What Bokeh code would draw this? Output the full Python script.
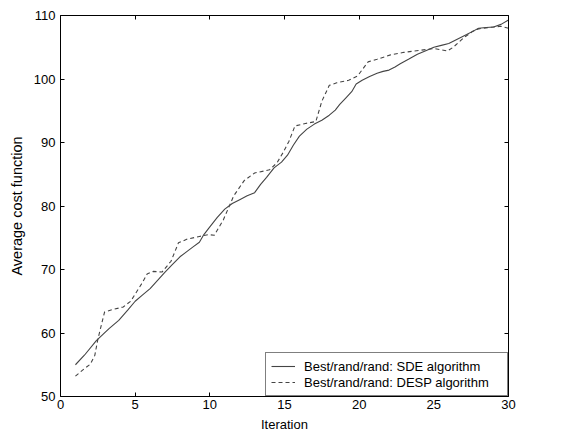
from bokeh.plotting import figure
from bokeh.models import Range1d, LinearAxis, FixedTicker, Legend, LegendItem
from bokeh.embed import file_html
from bokeh.resources import INLINE

# ---- data ----
sde_x = [1, 1.6, 2.4, 3.25, 3.9, 4.5, 5, 5.5, 6, 6.5, 7, 7.5, 8, 8.5, 8.9, 9.3, 9.6,
         10, 10.5, 11, 11.5, 12, 12.5, 13, 13.4, 13.8, 14.3, 14.8, 15.2, 15.6, 16,
         16.5, 17, 17.5, 18, 18.4, 18.7, 19.1, 19.5, 19.8, 20.2, 20.7, 21.2, 21.6,
         22, 22.4, 22.75, 23.3, 23.9, 24.5, 25, 25.5, 26, 26.6, 27.2, 27.6, 28,
         28.5, 29, 29.5, 30]
sde_y = [55.0, 56.5, 58.8, 60.7, 62.0, 63.6, 65.0, 66.0, 67.0, 68.3, 69.6, 70.8, 72.0,
         72.9, 73.6, 74.3, 75.5, 76.7, 78.2, 79.5, 80.4, 81.0, 81.6, 82.1, 83.4,
         84.5, 86.0, 86.9, 88.0, 89.6, 91.0, 92.1, 92.9, 93.5, 94.3, 95.1, 96.0,
         97.0, 98.0, 99.2, 99.8, 100.4, 100.9, 101.2, 101.4, 101.9, 102.4, 103.1,
         103.9, 104.5, 105.0, 105.3, 105.6, 106.3, 107.0, 107.5, 108.0, 108.1,
         108.2, 108.6, 109.3]

desp_x = [1, 1.5, 2.0, 2.3, 2.5, 2.95, 3.5, 4.2, 4.7, 5.1, 5.5, 5.8, 6.2, 6.8, 7.4,
          7.9, 8.5, 9.3, 9.9, 10.3, 10.9, 11.6, 12.3, 13.0, 14.0, 14.5, 14.9, 15.3,
          15.7, 16.4, 17.1, 17.5, 18.0, 18.5, 19.3, 19.9, 20.6, 21.2, 22.1, 23.0,
          24.0, 25.0, 25.5, 25.9, 26.3, 27.0, 27.6, 28.0, 29.0, 29.5, 30]
desp_y = [53.2, 54.2, 55.1, 56.5, 59.0, 63.3, 63.7, 64.1, 65.0, 66.5, 68.0, 69.3,
          69.7, 69.6, 71.3, 74.2, 74.8, 75.2, 75.5, 75.4, 77.8, 81.6, 84.0, 85.2,
          85.7, 86.8, 88.4, 90.2, 92.6, 93.0, 93.3, 96.5, 99.0, 99.4, 99.8, 100.5,
          102.7, 103.1, 103.8, 104.2, 104.5, 104.8, 104.6, 104.4, 105.0, 106.5,
          107.5, 107.9, 108.2, 108.3, 108.0]

x_ticks = [0, 5, 10, 15, 20, 25, 30]
y_ticks = [50, 60, 70, 80, 90, 100, 110]

FONT = "Liberation Sans"

p = figure(width=564, height=434, output_backend="svg", toolbar_location=None,
           x_range=Range1d(0, 30), y_range=Range1d(50, 110),
           min_border_left=60, min_border_right=56, min_border_top=15,
           min_border_bottom=38, x_axis_label="Iteration",
           y_axis_label="Average cost function")
p.outline_line_color = None
p.xgrid.visible = False
p.ygrid.visible = False
p.background_fill_color = "white"
p.border_fill_color = "white"

r1 = p.line(sde_x, sde_y, line_color="#444444", line_width=1.1)
r2 = p.line(desp_x, desp_y, line_color="#444444", line_width=1.1, line_dash="4 3")

def style(ax, ticks, show_labels):
    ax.ticker = FixedTicker(ticks=ticks)
    ax.axis_line_color = "black"
    ax.axis_line_width = 1
    ax.major_tick_in = 4
    ax.major_tick_out = 0
    ax.minor_tick_line_color = None
    ax.major_tick_line_color = "black"
    ax.major_label_text_font = FONT
    if show_labels:
        ax.major_label_text_color = "black"
        ax.major_label_text_font_size = "13px"
    else:
        ax.major_label_text_color = None
        ax.major_label_text_font_size = "1px"
        ax.major_label_standoff = 0

style(p.xaxis[0], x_ticks, True)
style(p.yaxis[0], y_ticks, True)
p.xaxis[0].major_label_standoff = 3
p.yaxis[0].major_label_standoff = 5
for ax in (p.xaxis[0], p.yaxis[0]):
    ax.axis_label_text_font = FONT
    ax.axis_label_text_font_style = "normal"
    ax.axis_label_text_color = "black"
p.xaxis[0].axis_label_text_font_size = "13px"
p.xaxis[0].axis_label_standoff = 5
p.yaxis[0].axis_label_text_font_size = "14.5px"
p.yaxis[0].axis_label_standoff = 6

top = LinearAxis()
style(top, x_ticks, False)
p.add_layout(top, "above")
right = LinearAxis()
style(right, y_ticks, False)
p.add_layout(right, "right")

legend = Legend(items=[LegendItem(label="Best/rand/rand: SDE algorithm", renderers=[r1]),
                       LegendItem(label="Best/rand/rand: DESP algorithm", renderers=[r2])],
                location="bottom_right")
legend.margin = 0
legend.padding = 5
legend.spacing = 0
legend.label_height = 16
legend.glyph_height = 16
legend.glyph_width = 24
legend.label_standoff = 9
legend.label_width = 198
legend.label_text_font = FONT
legend.label_text_font_size = "13px"
legend.label_text_color = "black"
legend.border_line_color = "black"
legend.border_line_width = 1
legend.background_fill_color = "white"
legend.background_fill_alpha = 1
p.add_layout(legend, "center")

open("out.html", "w").write(file_html(p, INLINE))
